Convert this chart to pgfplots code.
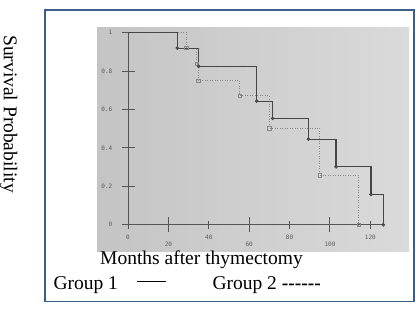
\documentclass[border=0pt]{standalone}
\usepackage{fontspec}
\setmainfont{Liberation Serif}
\newfontfamily\tickfont{DejaVu Sans Mono}
\usepackage{pgfplots}
\pgfplotsset{compat=1.18}
\definecolor{framec}{RGB}{60,95,135}
\definecolor{axc}{RGB}{85,85,85}
\definecolor{cone}{RGB}{70,70,70}
\definecolor{ctwo}{RGB}{135,135,135}
\definecolor{lab}{RGB}{90,90,90}
\definecolor{bgl}{RGB}{196,196,196}
\definecolor{bgr}{RGB}{218,218,218}
\pgfplotsset{km/.style={
  at={(128pt,83.2pt)}, anchor=south west,
  scale only axis, width=255.3pt, height=192.1pt,
  xmin=0, xmax=126.4, ymin=0, ymax=1,
  clip=false, tick align=outside,
  major tick style={line width=1pt, draw=axc},
  ticklabel style={font=\tickfont\fontsize{6}{7}\selectfont, text=lab, inner sep=1.5pt},
}}
\begin{document}
\begin{tikzpicture}
\path[use as bounding box, fill=white] (0pt,0pt) rectangle (420pt,308pt);
\draw[framec, line width=1.6pt] (45pt,6.5pt) rectangle (414pt,298pt);
\shade[left color=bgl, right color=bgr] (97pt,57pt) rectangle (409pt,280pt);
% x ticks 20, 60, 100 (long)
\begin{axis}[km, axis x line=bottom, axis y line=none,
  axis line style={draw=none}, major tick length=15pt,
  xtick={20,60,100}, xticklabels={20,60,100}, ytick=\empty,
  xticklabel style={yshift=-8pt}]
\end{axis}
% x ticks 0, 40, 80, 120 (short)
\begin{axis}[km, axis x line=bottom, axis y line=none,
  axis line style={draw=none}, major tick length=8pt,
  xtick={0,40,80,120}, xticklabels={0,40,80,120}, ytick=\empty,
  xticklabel style={yshift=-4.5pt}]
\end{axis}
% main axis with y ticks and the curves
\begin{axis}[km,
  axis x line=bottom, axis y line=left,
  axis line style={-, line width=1pt, draw=axc},
  major tick length=13pt,
  xtick=\empty,
  ytick={0,0.2,0.4,0.6,0.8,1}, yticklabels={0,0.2,0.4,0.6,0.8,1},
  yticklabel style={xshift=-7.5pt},
]
\addplot[const plot, ctwo, line width=1.1pt, dash pattern=on 1pt off 1.5pt,
  mark=square, mark size=1.7pt, mark options={solid, line width=0.8pt}, mark indices={2,3,4,5,6,7,8}]
  coordinates {(0,1) (29.0,0.92) (34.0,0.837) (34.8,0.750) (55.4,0.672) (70.0,0.502) (95.0,0.257) (114.2,0)};
\addplot[const plot, cone, line width=1.1pt,
  mark=o, mark size=1.4pt, mark options={solid, line width=0.8pt}, mark indices={2,3,4,5,6,7,8,9}]
  coordinates {(0,1) (24.4,0.92) (35.0,0.825) (63.7,0.644) (71.6,0.554) (89.3,0.446) (103.0,0.302) (120.3,0.158) (126.4,0)};
\end{axis}
\node[anchor=base west, inner sep=0, font=\fontsize{19.5}{22}\selectfont] at (100pt,43.7pt) {Months after thymectomy};
\node[anchor=base west, inner sep=0, font=\fontsize{19.5}{22}\selectfont] at (53.3pt,18.7pt) {Group 1};
\draw[line width=0.7pt] (136.7pt,26.3pt) -- (165.7pt,26.3pt);
\node[anchor=base west, inner sep=0, font=\fontsize{19.5}{22}\selectfont] at (212.3pt,18.7pt) {Group 2 \textbf{-{}-{}-{}-{}-{}-}};
\node[rotate=-90, anchor=base west, inner sep=0, font=\fontsize{19.5}{22}\selectfont] at (4pt,273pt) {Survival Probability};
\end{tikzpicture}
\end{document}
